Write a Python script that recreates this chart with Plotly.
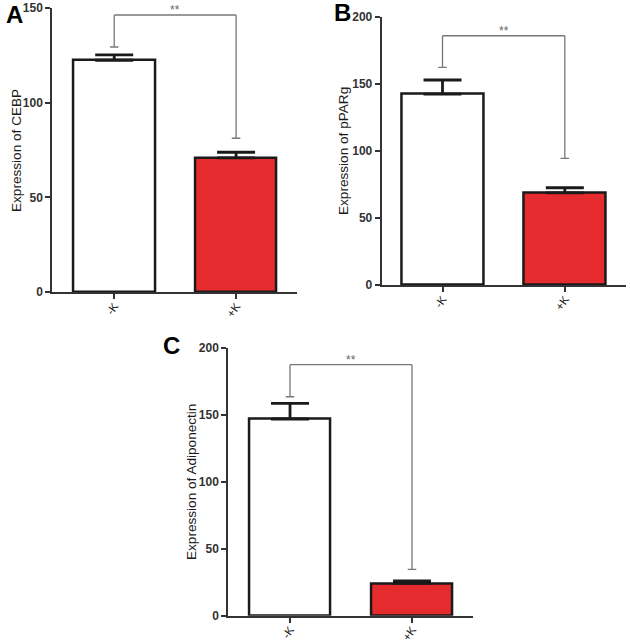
import plotly.graph_objects as go

categories = ["-K", "+K"]

cebp_mean = [122.4, 70.8]
cebp_err = [2.8, 3.0]
cebp_bracket = [146.3, 129.4, 81.2]

pparg_mean = [142.3, 68.6]
pparg_err = [10.5, 3.9]
pparg_bracket = [185.8, 162.2, 94.4]

adipo_mean = [146.8, 24.1]
adipo_err = [11.7, 1.8]
adipo_bracket = [187.3, 163.4, 34.6]

y_titles = ["Expression of CEBP", "Expression of pPARg", "Expression of Adiponectin"]
panel_letters = ["A", "B", "C"]
y_ranges = [150, 200, 200]
y_ticks = [[0, 50, 100, 150], [0, 50, 100, 150, 200], [0, 50, 100, 150, 200]]
signif = "**"

W, H = 630, 642
# pixel boxes of the plot areas: (left, right, top, bottom)
boxes = [(52.3, 297, 8, 292), (381.7, 626, 16.7, 285), (228.3, 473, 347.7, 615.7)]
xranges = [(-0.508, 1.5), (-0.497, 1.5), (-0.506, 1.5)]

FONT = "Liberation Sans, Arial, sans-serif"
RED = "#e62b2f"
AX = "#333333"

fig = go.Figure()
means = [cebp_mean, pparg_mean, adipo_mean]
errs = [cebp_err, pparg_err, adipo_err]
brackets = [cebp_bracket, pparg_bracket, adipo_bracket]

shapes = []
annotations = []
for i in range(3):
    xa = "x" if i == 0 else f"x{i+1}"
    ya = "y" if i == 0 else f"y{i+1}"
    fig.add_trace(go.Bar(
        x=categories, y=means[i], xaxis=xa, yaxis=ya,
        width=0.667,
        marker=dict(color=["white", RED], line=dict(color="#1a1a1a", width=2.5)),
        error_y=dict(type="data", symmetric=False, array=errs[i], arrayminus=[0, 0],
                     color="#1a1a1a", thickness=2.8, width=19),
        showlegend=False, hoverinfo="skip",
    ))
    l, r, t, b = boxes[i]
    xkey = "xaxis" if i == 0 else f"xaxis{i+1}"
    ykey = "yaxis" if i == 0 else f"yaxis{i+1}"
    fig.layout[xkey] = dict(
        domain=[l / W, r / W], anchor=ya, range=list(xranges[i]), automargin=False,
        type="category", showline=True, linecolor=AX, linewidth=2,
        ticks="outside", ticklen=5, tickwidth=2, tickcolor=AX,
        tickangle=-55, showgrid=False, zeroline=False, ticklabelstandoff=-4,
        tickfont=dict(family=FONT, size=11.5, color="#222"),
    )
    fig.layout[ykey] = dict(
        domain=[1 - b / H, 1 - t / H], anchor=xa, range=[0, y_ranges[i]], automargin=False,
        showline=True, linecolor=AX, linewidth=2,
        ticks="outside", ticklen=5, tickwidth=2, tickcolor=AX,
        tickvals=y_ticks[i], showgrid=False, zeroline=False,
        tickfont=dict(family=FONT, size=12, color="#333", weight="bold"),
    )
    top, lend, rend = brackets[i]
    line = dict(color="#777777", width=1.3)
    shapes += [
        dict(type="line", xref=xa, yref=ya, x0=0, x1=1, y0=top, y1=top, line=line),
        dict(type="line", xref=xa, yref=ya, x0=0, x1=0, y0=top, y1=lend, line=line),
        dict(type="line", xref=xa, yref=ya, x0=1, x1=1, y0=top, y1=rend, line=line),
        dict(type="line", xref=xa, yref=ya, x0=-0.035, x1=0.035, y0=lend, y1=lend, line=line),
        dict(type="line", xref=xa, yref=ya, x0=0.965, x1=1.035, y0=rend, y1=rend, line=line),
    ]
    annotations.append(dict(xref=xa, yref=ya, x=0.5, y=top, yshift=5, text=signif,
                            showarrow=False, font=dict(family=FONT, size=12, color="#666")))

def paper_text(px, py, text, size, angle=0, bold=False):
    return dict(xref="paper", yref="paper", x=px / W, y=1 - py / H, text=text,
                textangle=angle, xanchor="center", yanchor="middle", showarrow=False,
                font=dict(family=FONT, size=size, color="#1a1a1a" if not bold else "black",
                          weight="bold" if bold else "normal"))

annotations += [
    paper_text(17, 151, y_titles[0], 13.6, -90),
    paper_text(344, 151, y_titles[1], 13.6, -90),
    paper_text(191, 482, y_titles[2], 13.6, -90),
    paper_text(14, 14, panel_letters[0], 24, bold=True),
    paper_text(343, 12, panel_letters[1], 24, bold=True),
    paper_text(172, 345, panel_letters[2], 24, bold=True),
]

fig.update_layout(template="none", width=W, height=H, margin=dict(l=0, r=0, t=0, b=0),
                  paper_bgcolor="white", plot_bgcolor="white",
                  shapes=shapes, annotations=annotations, bargap=0)

fig.write_html("out.html", config={"displayModeBar": False},
               post_script="document.body.style.margin='0';document.body.style.overflow='hidden';")
